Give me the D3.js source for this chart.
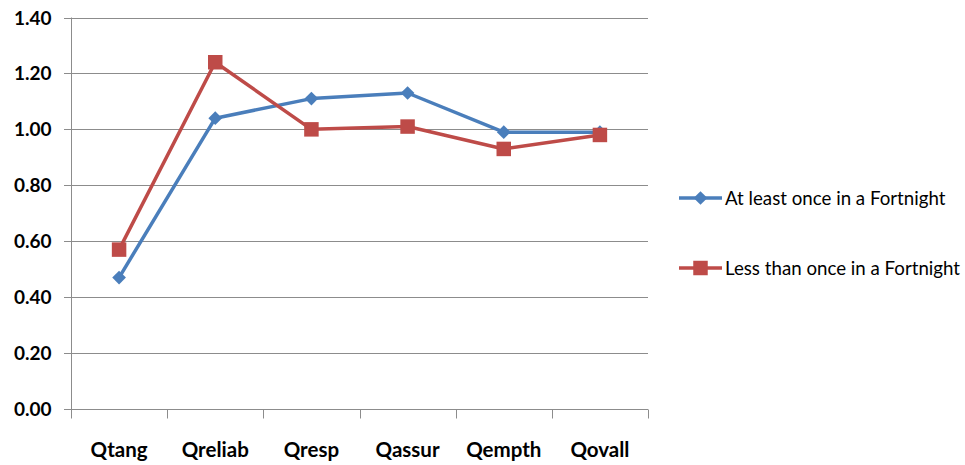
<!DOCTYPE html>
<html>
<head>
<meta charset="utf-8">
<script src="https://cdn.jsdelivr.net/npm/d3@7"></script>
<style>
  html, body { margin: 0; padding: 0; background: #fff; }
  svg { display: block; }
</style>
</head>
<body>
<svg id="chart" width="965" height="465"></svg>
<script>
// Service-quality gap scores by dimension, split by visit frequency
const categories = ["Qtang", "Qreliab", "Qresp", "Qassur", "Qempth", "Qovall"];
const atLeastFortnight = [0.47, 1.04, 1.11, 1.13, 0.99, 0.99];
const lessThanFortnight = [0.57, 1.24, 1.00, 1.01, 0.93, 0.98];
const yTicks = [0.00, 0.20, 0.40, 0.60, 0.80, 1.00, 1.20, 1.40];
const seriesNames = ["At least once in a Fortnight", "Less than once in a Fortnight"];

const svg = d3.select("#chart");
const plot = { left: 71, right: 648, top: 17.5, bottom: 409 };
const fontFamily = "Lato, 'Open Sans', sans-serif";
const blue = "#4a7ebb", red = "#be4b48";

const x = d3.scaleBand().domain(categories).range([plot.left, plot.right]);
const y = d3.scaleLinear().domain([0, 1.4]).range([plot.bottom, plot.top]);

// horizontal gridlines
svg.append("g")
  .selectAll("line")
  .data(yTicks.filter(t => t > 0))
  .join("line")
  .attr("x1", plot.left - 7).attr("x2", plot.right)
  .attr("y1", d => Math.round(y(d)) + 0.5).attr("y2", d => Math.round(y(d)) + 0.5)
  .attr("stroke", "#8c8c8c").attr("stroke-width", 1);

// y axis
const yAxis = svg.append("g")
  .attr("transform", `translate(${plot.left + 0.5},0)`)
  .call(d3.axisLeft(y).tickValues(yTicks).tickFormat(d3.format(".2f")).tickSize(7).tickPadding(13));
yAxis.select(".domain").attr("stroke", "#8c8c8c").attr("d", `M0,${plot.top}V${plot.bottom}`);
yAxis.selectAll(".tick line").attr("stroke", "#8c8c8c");
yAxis.selectAll(".tick text")
  .attr("font-family", fontFamily).attr("font-size", 19).attr("font-weight", "bold").attr("fill", "#000");
yAxis.selectAll(".tick").attr("transform", d => `translate(0,${Math.round(y(d)) + 0.5})`);

// x axis with ticks at band boundaries
const xAxisG = svg.append("g").attr("transform", `translate(0,${Math.round(plot.bottom) + 0.5})`);
xAxisG.append("line")
  .attr("x1", plot.left - 7).attr("x2", plot.right)
  .attr("stroke", "#8c8c8c");
const boundaries = categories.map(c => x(c)).concat([plot.right]);
xAxisG.selectAll("line.bt")
  .data(boundaries)
  .join("line").attr("class", "bt")
  .attr("x1", d => Math.round(d) + 0.5).attr("x2", d => Math.round(d) + 0.5)
  .attr("y1", 0).attr("y2", 9)
  .attr("stroke", "#8c8c8c");
xAxisG.selectAll("text")
  .data(categories)
  .join("text")
  .attr("x", d => x(d) + x.bandwidth() / 2)
  .attr("y", 47)
  .attr("text-anchor", "middle")
  .attr("font-family", fontFamily).attr("font-size", 20.5).attr("font-weight", "bold")
  .attr("fill", "#000")
  .text(d => d);

const line = d3.line()
  .x((d, i) => x(categories[i]) + x.bandwidth() / 2)
  .y(d => y(d));

const diamond = d3.symbol().type(d3.symbolDiamond2).size(120);
const square = d3.symbol().type(d3.symbolSquare).size(210);

function drawSeries(values, color, sym) {
  svg.append("path")
    .datum(values)
    .attr("d", line)
    .attr("fill", "none")
    .attr("stroke", color)
    .attr("stroke-width", 3.5)
    .attr("stroke-linejoin", "round");
  svg.append("g")
    .selectAll("path")
    .data(values)
    .join("path")
    .attr("transform", (d, i) => `translate(${x(categories[i]) + x.bandwidth() / 2},${y(d)})`)
    .attr("d", sym)
    .attr("fill", color);
}

drawSeries(atLeastFortnight, blue, diamond);
drawSeries(lessThanFortnight, red, square);

// legend
const legend = svg.append("g");
const legendItems = [
  { name: seriesNames[0], color: blue, sym: diamond, y: 198 },
  { name: seriesNames[1], color: red, sym: square, y: 268 }
];
legendItems.forEach(it => {
  legend.append("line")
    .attr("x1", 679).attr("x2", 722).attr("y1", it.y).attr("y2", it.y)
    .attr("stroke", it.color).attr("stroke-width", 3.5);
  legend.append("path")
    .attr("transform", `translate(700.5,${it.y})`)
    .attr("d", it.sym).attr("fill", it.color);
  legend.append("text")
    .attr("x", 725).attr("y", it.y + 6.5)
    .attr("font-family", fontFamily).attr("font-size", 18.7)
    .attr("fill", "#000")
    .text(it.name);
});
</script>
</body>
</html>
